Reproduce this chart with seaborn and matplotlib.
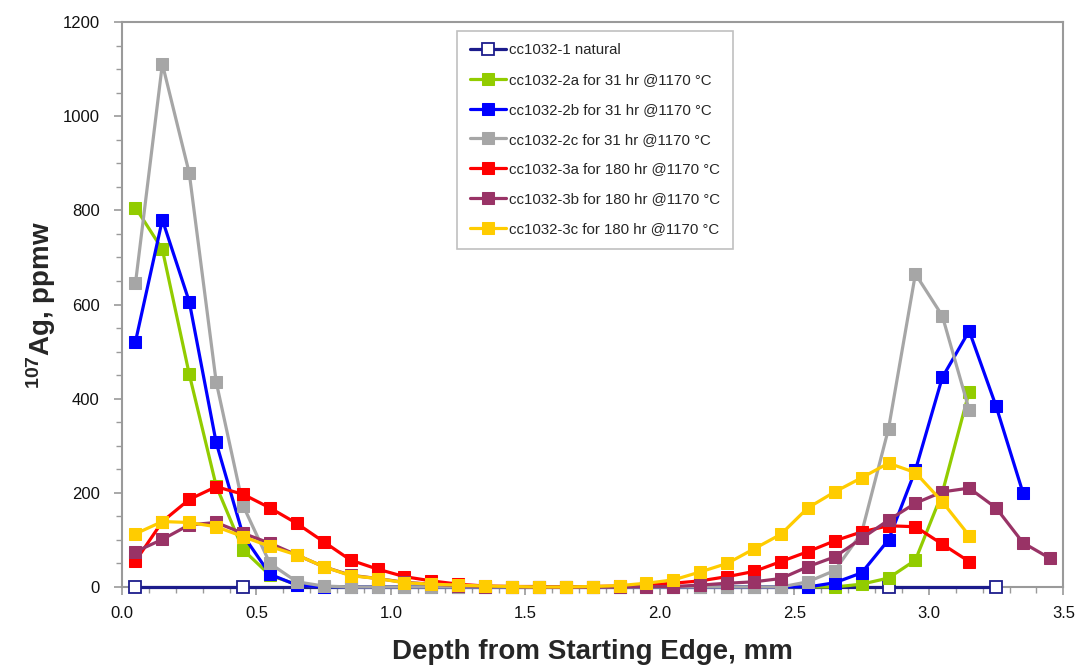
import matplotlib
matplotlib.use("Agg")
import matplotlib.pyplot as plt
import seaborn as sns
from matplotlib.ticker import MultipleLocator

sns.set_theme(style="white")
plt.rcParams['font.family'] = ['Liberation Sans', 'DejaVu Sans']
plt.rcParams['mathtext.fontset'] = 'custom'
plt.rcParams['mathtext.rm'] = 'Liberation Sans:bold'
plt.rcParams['mathtext.it'] = 'Liberation Sans:bold'
plt.rcParams['mathtext.bf'] = 'Liberation Sans:bold'

# ---- data ----
depth = [0.05, 0.15, 0.25, 0.35, 0.45, 0.55, 0.65, 0.75, 0.85, 0.95,
         1.05, 1.15, 1.25, 1.35, 1.45, 1.55, 1.65, 1.75, 1.85, 1.95,
         2.05, 2.15, 2.25, 2.35, 2.45, 2.55, 2.65, 2.75, 2.85, 2.95,
         3.05, 3.15, 3.25, 3.35, 3.45]

natural_x = [0.05, 0.45, 2.85, 3.25]
natural_y = [0, 0, 0, 0]

s2a = [806, 717, 452, 215, 79, 25, 5, 0, 0, 0,
       0, 0, 0, 0, 0, 0, 0, 0, 0, 0,
       0, 0, 0, 0, 0, 0, 0, 6, 19, 57,
       200, 415]
s2b = [521, 780, 606, 307, 110, 27, 4, 0, 0, 0,
       0, 0, 0, 0, 0, 0, 0, 0, 0, 0,
       0, 0, 0, 0, 0, 0, 9, 30, 100, 248,
       445, 544, 384, 200]
s2c = [645, 1111, 879, 436, 173, 50, 11, 2, 0, 0,
       0, 0, 0, 0, 0, 0, 0, 0, 0, 0,
       0, 0, 0, 0, 0, 11, 35, 115, 336, 665,
       576, 376]
s3a = [55, 139, 186, 213, 197, 168, 135, 96, 57, 38,
       22, 13, 6, 2, 1, 1, 0, 1, 2, 4,
       8, 13, 22, 33, 54, 75, 98, 117, 130, 128,
       91, 54]
s3b = [75, 101, 132, 137, 114, 93, 68, 43, 25, 18,
       10, 6, 3, 1, 1, 0, 0, 0, 0, 1,
       1, 4, 8, 11, 18, 43, 64, 103, 142, 178,
       202, 210, 168, 94, 61]
s3c = [113, 139, 137, 128, 107, 86, 68, 43, 24, 18,
       9, 6, 4, 2, 1, 0, 0, 1, 3, 8,
       15, 32, 50, 81, 112, 168, 202, 232, 263, 243,
       181, 109]

labels = ["cc1032-1 natural",
          "cc1032-2a for 31 hr @1170 °C",
          "cc1032-2b for 31 hr @1170 °C",
          "cc1032-2c for 31 hr @1170 °C",
          "cc1032-3a for 180 hr @1170 °C",
          "cc1032-3b for 180 hr @1170 °C",
          "cc1032-3c for 180 hr @1170 °C"]
colors = ["#1c1c8c", "#92cc00", "#0000ff", "#a6a6a6", "#ff0000", "#993366", "#ffcc00"]

fig = plt.figure(figsize=(10.77, 6.70), dpi=100)
ax = fig.add_axes([0.1133, 0.1239, 0.8740, 0.8432])

lw = 2.3
ms = 8

sns.lineplot(x=natural_x, y=natural_y, ax=ax, color=colors[0], lw=lw,
             marker='s', markersize=ms, markerfacecolor='white',
             markeredgecolor=colors[0], markeredgewidth=1.3,
             label=labels[0], clip_on=False, sort=False, zorder=3)

series = [s2a, s2b, s2c, s3a, s3b, s3c]
for i, vals in enumerate(series):
    c = colors[i + 1]
    sns.lineplot(x=depth[:len(vals)], y=vals, ax=ax, color=c, lw=lw,
                 marker='s', markersize=ms, markerfacecolor=c,
                 markeredgecolor=c, label=labels[i + 1],
                 clip_on=False, sort=False, zorder=4 + i)

ax.set_xlim(0, 3.5)
ax.set_ylim(0, 1200)
ax.xaxis.set_major_locator(MultipleLocator(0.5))
ax.xaxis.set_minor_locator(MultipleLocator(0.1))
ax.yaxis.set_major_locator(MultipleLocator(200))
ax.yaxis.set_minor_locator(MultipleLocator(50))
ax.xaxis.set_major_formatter(plt.FuncFormatter(lambda v, p: f"{v:.1f}"))
ax.yaxis.set_major_formatter(plt.FuncFormatter(lambda v, p: f"{v:.0f}"))

spine_c = "#9a9a9a"
for s in ax.spines.values():
    s.set_color(spine_c)
    s.set_linewidth(1.5)
    s.set_visible(True)
ax.tick_params(axis='both', which='major', direction='out', length=6,
               width=1.2, color=spine_c, labelsize=12, labelcolor='#111111',
               bottom=True, left=True)
ax.tick_params(axis='both', which='minor', direction='out', length=4,
               width=1.0, color=spine_c, bottom=True, left=True)
ax.tick_params(axis='x', pad=8)
ax.tick_params(axis='y', pad=10)

ax.set_xlabel("Depth from Starting Edge, mm", fontsize=20, fontweight='bold',
              labelpad=13)
ax.set_ylabel(r"$^{107}$Ag, ppmw", fontsize=20, fontweight='bold')
ax.yaxis.set_label_coords(-0.068, 0.5)

leg = ax.legend(loc='upper left', bbox_to_anchor=(0.356, 0.985),
                fontsize=10.8, frameon=True, fancybox=False, shadow=False,
                handlelength=2.4, handletextpad=0.2, labelspacing=1.05,
                borderpad=0.85, borderaxespad=0)
leg.get_frame().set_edgecolor("#b0b0b0")
leg.get_frame().set_linewidth(1.2)

fig.savefig("out.png", dpi=100, facecolor='white')
